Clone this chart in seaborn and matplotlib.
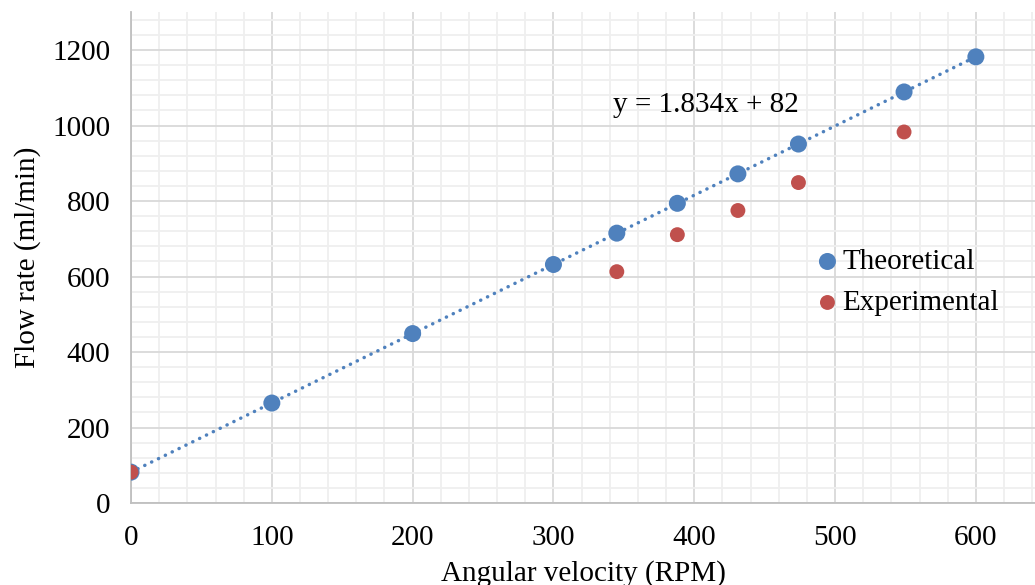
import matplotlib
matplotlib.use("Agg")
import matplotlib.pyplot as plt
from matplotlib.ticker import MultipleLocator
import numpy as np
import pandas as pd
import seaborn as sns

# values
rpm_theo = [0, 100, 200, 300, 345, 388, 431, 474, 549, 600]
flow_theo = [82, 265, 449, 632, 715, 794, 872, 951, 1089, 1182]
rpm_exp = [0, 345, 388, 431, 474, 549]
flow_exp = [82, 613, 711, 775, 849, 983]

blue = "#4F81BD"
red = "#C0504D"

sns.set_style("whitegrid")
plt.rcParams["font.family"] = ["Liberation Serif", "DejaVu Serif"]
plt.rcParams["text.color"] = "black"
plt.rcParams["axes.labelcolor"] = "black"
plt.rcParams["xtick.color"] = "black"
plt.rcParams["ytick.color"] = "black"

df_t = pd.DataFrame({"rpm": rpm_theo, "flow": flow_theo})
df_e = pd.DataFrame({"rpm": rpm_exp, "flow": flow_exp})

fig = plt.figure(figsize=(10.35, 5.85), dpi=100)
ax = fig.add_axes([0.1266, 0.140, 0.8734, 0.839])

# linear trendline through theoretical points
sns.regplot(data=df_t, x="rpm", y="flow", scatter=False, ci=None, ax=ax,
            line_kws=dict(color=blue, lw=2.5, linestyle=(0, (0.05, 2.15)),
                          dash_capstyle="round", zorder=3))
sns.scatterplot(data=df_t, x="rpm", y="flow", color=blue, s=150,
                edgecolor="none", ax=ax, zorder=4, label="Theoretical")
sns.scatterplot(data=df_e, x="rpm", y="flow", color=red, s=115,
                edgecolor="none", ax=ax, zorder=5, label="Experimental")

slope, icpt = np.polyfit(rpm_theo, flow_theo, 1)
ax.text(0.636, 0.812, "y = %.3fx + %d" % (slope, round(icpt)),
        transform=ax.transAxes, fontsize=21, ha="center", va="center")

ax.set_xlim(0, 642)
ax.set_ylim(0, 1300)
ax.xaxis.set_major_locator(MultipleLocator(100))
ax.xaxis.set_minor_locator(MultipleLocator(20))
ax.yaxis.set_major_locator(MultipleLocator(200))
ax.yaxis.set_minor_locator(MultipleLocator(40))
ax.grid(which="major", color="#d9d9d9", lw=1.3)
ax.grid(which="minor", color="#efefef", lw=1.3)
ax.set_axisbelow(True)

for side in ["top", "right"]:
    ax.spines[side].set_visible(False)
for side in ["left", "bottom"]:
    ax.spines[side].set_color("#bfbfbf")
    ax.spines[side].set_linewidth(1.3)
ax.tick_params(which="major", length=7, width=1.3, color="#bfbfbf",
               labelcolor="black", labelsize=21)
ax.tick_params(axis="x", pad=9)
ax.tick_params(axis="y", pad=8)
ax.tick_params(which="minor", length=0)
ax.set_xlabel("Angular velocity (RPM)", fontsize=21, labelpad=6)
ax.set_ylabel("Flow rate (ml/min)", fontsize=21, labelpad=8)

ax.legend(loc="upper left", bbox_to_anchor=(0.722, 0.548), frameon=False,
          fontsize=21, handletextpad=-0.5, borderpad=0, labelspacing=0.5,
          markerscale=1.0)

fig.savefig("out.png", dpi=100)
